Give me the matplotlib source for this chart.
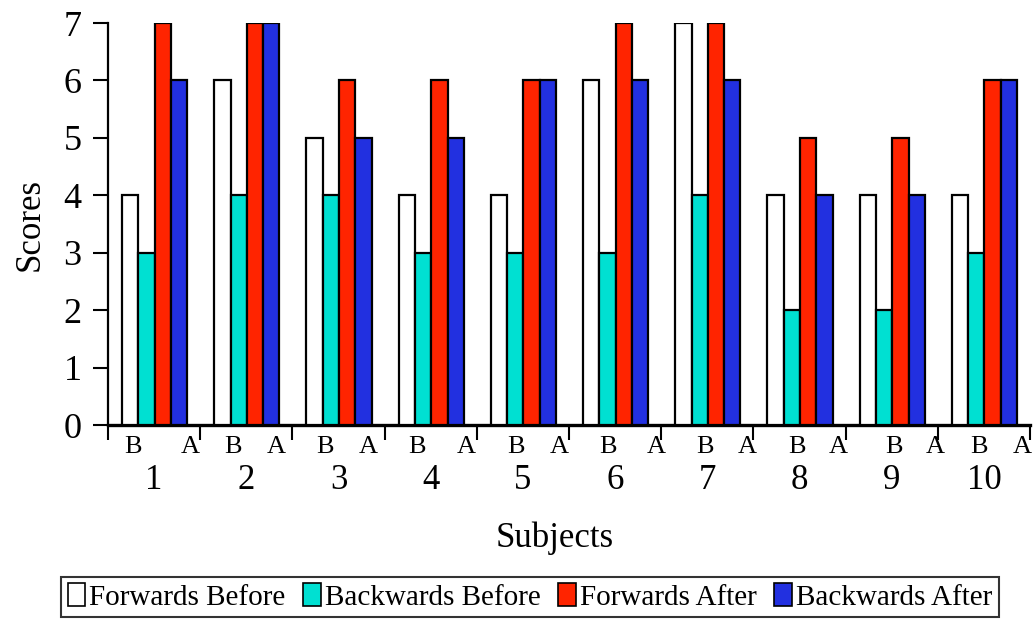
"""Digit span scores before/after, grouped bars per subject."""
import numpy as np
import matplotlib
matplotlib.use("Agg")
import matplotlib.pyplot as plt
from matplotlib.patches import Patch
from matplotlib.transforms import blended_transform_factory

plt.rcParams["font.family"] = ["Liberation Serif", "DejaVu Serif"]

subjects = ["1", "2", "3", "4", "5", "6", "7", "8", "9", "10"]
series = ["Forwards Before", "Backwards Before", "Forwards After", "Backwards After"]
forwards_before = [4, 6, 5, 4, 4, 6, 7, 4, 4, 4]
backwards_before = [3, 4, 4, 3, 3, 3, 4, 2, 2, 3]
forwards_after = [7, 7, 6, 6, 6, 7, 7, 5, 5, 6]
backwards_after = [6, 7, 5, 5, 6, 6, 6, 4, 4, 6]
colors = ["#FFFFFF", "#00E0D2", "#FF2400", "#2230E0"]

# odd little "B" / "A" labels under each group (positions in group units)
b_pos = [0.27, 1.36, 2.35, 3.35, 4.43, 5.42, 6.48, 7.47, 8.53, 9.45]
a_pos = [0.89, 1.82, 2.82, 3.89, 4.89, 5.95, 6.93, 7.92, 8.97, 9.92]

fig = plt.figure(figsize=(10.33, 6.19), dpi=100)
ax = fig.add_axes([108 / 1033, 194 / 619, 922 / 1033, 402 / 619])

values = [forwards_before, backwards_before, forwards_after, backwards_after]
bw = 0.177
x = np.arange(len(subjects))
for j, (vals, c) in enumerate(zip(values, colors)):
    ax.bar(x + 0.152 + j * bw, vals, width=bw, align="edge", color=c,
           edgecolor="black", linewidth=1.6, zorder=3)

ax.set_xlim(0, len(subjects))
ax.set_ylim(0, 7)
ax.set_yticks(range(8))
ax.tick_params(axis="y", labelsize=26, length=11, width=1.5, pad=8)
ax.set_xticks(range(len(subjects) + 1))
ax.set_xticklabels([])
ax.tick_params(axis="x", length=11, width=1.5)
for s in ["top", "right"]:
    ax.spines[s].set_visible(False)
ax.spines["left"].set_linewidth(1.6)
ax.spines["bottom"].set_linewidth(2.4)

tr = blended_transform_factory(ax.transData, ax.transAxes)
for p in b_pos:
    ax.text(p, -0.055, "B", transform=tr, ha="center", va="center", fontsize=19, clip_on=False)
for p in a_pos:
    ax.text(p, -0.055, "A", transform=tr, ha="center", va="center", fontsize=19, clip_on=False)
for i, s in enumerate(subjects):
    ax.text(i + 0.5, -0.137, s, transform=tr, ha="center", va="center", fontsize=25, clip_on=False)

fig.text(555 / 1033, 1 - 538 / 619, "Subjects", ha="center", va="center", fontsize=25)
fig.text(30 / 1033, 1 - 225 / 619, "Scores", ha="center", va="center", fontsize=25, rotation=90)

handles = [Patch(facecolor=c, edgecolor="black", linewidth=1.2) for c in colors]
leg = fig.legend(handles, series, ncol=4, loc="center", bbox_to_anchor=(530 / 1033, 22 / 619),
                 fontsize=21, frameon=True, fancybox=False, edgecolor="black",
                 handlelength=0.6, handleheight=0.85, handletextpad=0.15, columnspacing=0.6,
                 borderpad=0.22, borderaxespad=0)
leg.get_frame().set_linewidth(1.5)

fig.savefig("out.png", dpi=100)
